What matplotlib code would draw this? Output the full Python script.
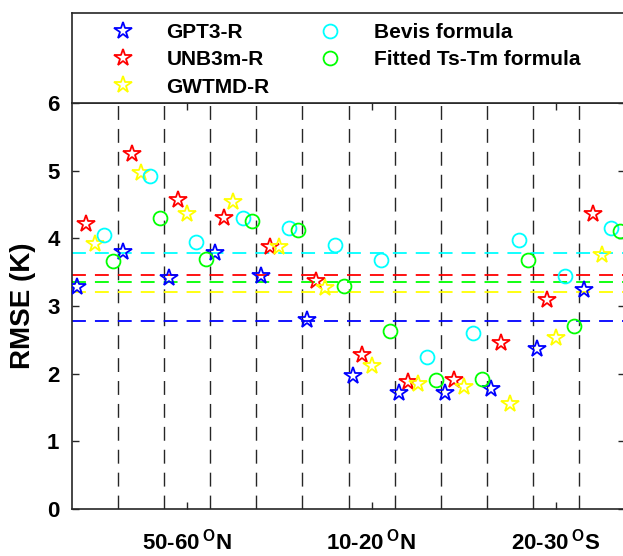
import numpy as np
import matplotlib
matplotlib.use("Agg")
import matplotlib.pyplot as plt

plt.rcParams['font.family'] = ['Liberation Sans', 'DejaVu Sans']
plt.rcParams['font.weight'] = 'bold'
plt.rcParams['mathtext.fontset'] = 'custom'
plt.rcParams['mathtext.bf'] = 'Liberation Sans:bold'
plt.rcParams['mathtext.rm'] = 'Liberation Sans:bold'
plt.rcParams['lines.scale_dashes'] = False

# RMSE (K) for the 12 latitude bands
gpt3 = [3.28, 3.80, 3.41, 3.78, 3.44, 2.79, 1.97, 1.72, 1.71, 1.78, 2.37, 3.23]
unb3m = [4.21, 5.25, 4.57, 4.30, 3.87, 3.37, 2.28, 1.88, 1.91, 2.45, 3.09, 4.36]
gwtmd = [3.92, 4.96, 4.36, 4.53, 3.87, 3.26, 2.11, 1.84, 1.80, 1.55, 2.52, 3.76]
bevis = [4.05, 4.92, 3.94, 4.30, 4.15, 3.90, 3.68, 2.24, 2.60, 3.98, 3.45, 4.16]
fitted = [3.66, 4.30, 3.69, 4.26, 4.13, 3.29, 2.63, 1.91, 1.92, 3.68, 2.71, 4.11]

names = ['GPT3-R', 'UNB3m-R', 'GWTMD-R', 'Bevis formula', 'Fitted Ts-Tm formula']
tick_pos = [2.5, 6.5, 10.5]
tick_labels = [r'50-60$\,{}^{\mathbf{O}}$N', r'10-20$\,{}^{\mathbf{O}}$N', r'20-30$\,{}^{\mathbf{O}}$S']

series = [gpt3, unb3m, gwtmd, bevis, fitted]
colors = ['#0000ff', '#ff0000', '#ffff00', '#00ffff', '#00ff00']
markers = ['*', '*', '*', 'o', 'o']
msizes = [13, 13, 13, 10, 10]

fig = plt.figure(figsize=(6.23, 5.56), dpi=100)
W, H = 623.0, 556.0
ax = fig.add_axes([72 / W, 1 - 509 / H, (625 - 72) / W, (509 - 103) / H])

n = len(gpt3)
groups = np.arange(n)

# vertical separators between groups
for k in range(1, n):
    ax.axvline(k, color='#262626', lw=1.0, dashes=(10, 6.5), zorder=1)

handles = []
for i, (vals, c, m, ms, name) in enumerate(zip(series, colors, markers, msizes, names)):
    x = groups + 0.1 + 0.2 * i
    h, = ax.plot(x, vals, linestyle='none', marker=m, ms=ms, mfc='none',
                 mec=c, mew=1.3, label=name, zorder=3, clip_on=True)
    handles.append(h)
    ax.axhline(np.mean(vals), color=c, lw=1.3, dashes=(10, 6.5), zorder=2)

ax.set_xlim(0, n)
ax.set_ylim(0, 6)
ax.set_yticks(range(7))
ax.set_xticks(tick_pos)
ax.set_xticklabels(tick_labels, fontsize=16, fontweight='bold')
ax.tick_params(axis='y', labelsize=16, direction='in', length=5, pad=9,
               right=True, width=1, color='#262626')
ax.tick_params(axis='x', direction='in', length=5, pad=14, top=True,
               width=1, color='#262626')
for s in ax.spines.values():
    s.set_color('#262626')
    s.set_linewidth(1.2)
ax.set_ylabel('RMSE (K)', fontsize=20, fontweight='bold', labelpad=8)

# legend box above the plot
lax = fig.add_axes([72 / W, 1 - 103 / H, (625 - 72) / W, (103 - 12.5) / H])
lax.set_xticks([])
lax.set_yticks([])
for s in lax.spines.values():
    s.set_color('#262626')
    s.set_linewidth(1.2)
lax.legend(handles, names, loc='upper left', bbox_to_anchor=(102 / W, 1 - 23 / H),
           bbox_transform=fig.transFigure, ncol=2, frameon=False,
           prop={'size': 15, 'weight': 'bold'}, borderpad=0, borderaxespad=0,
           handlelength=2, handletextpad=1.1, columnspacing=1.9,
           labelspacing=0.4, numpoints=1)

fig.savefig('out.png', dpi=100)
